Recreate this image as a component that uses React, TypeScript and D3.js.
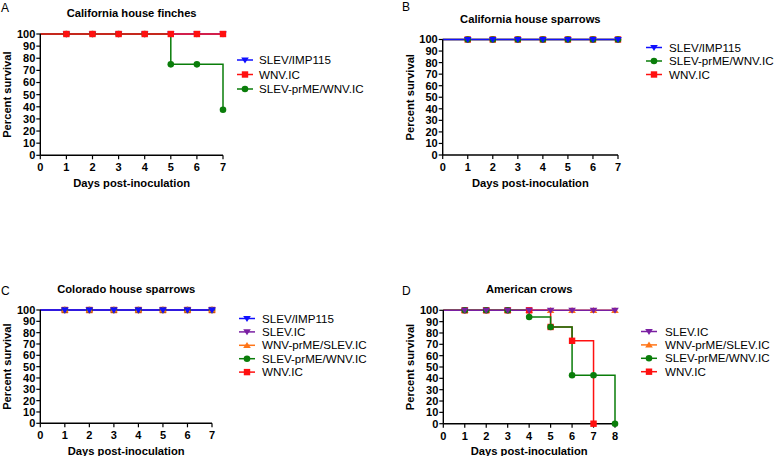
import React from "react";
import * as d3 from "d3";

const FONT = "'Liberation Sans', Arial, Helvetica, sans-serif";

const BLUE = "#1010ff";
const RED = "#ff1010";
const GREEN = "#0a7d0a";
const PURPLE = "#7a1fa2";
const ORANGE = "#ff7518";

const daysA = [0, 1, 2, 3, 4, 5, 6, 7];
const daysD = [0, 1, 2, 3, 4, 5, 6, 7, 8];

// Panel A: California house finches
const aSlevImp = [100, 100, 100, 100, 100, 100, 100, 100];
const aWnv = [100, 100, 100, 100, 100, 100, 100, 100];
const aSlevPrme = [100, 100, 100, 100, 100, 75, 75, 37.5];

// Panel B: California house sparrows
const bSlevImp = [100, 100, 100, 100, 100, 100, 100, 100];
const bSlevPrme = [100, 100, 100, 100, 100, 100, 100, 100];
const bWnv = [100, 100, 100, 100, 100, 100, 100, 100];

// Panel C: Colorado house sparrows
const cSlevImp = [100, 100, 100, 100, 100, 100, 100, 100];
const cSlevIc = [100, 100, 100, 100, 100, 100, 100, 100];
const cWnvPrme = [100, 100, 100, 100, 100, 100, 100, 100];
const cSlevPrme = [100, 100, 100, 100, 100, 100, 100, 100];
const cWnv = [100, 100, 100, 100, 100, 100, 100, 100];

// Panel D: American crows
const dSlevIc = [100, 100, 100, 100, 100, 100, 100, 100, 100];
const dWnvPrme = [100, 100, 100, 100, 100, 100, 100, 100, 100];
const dSlevPrme = [100, 100, 100, 100, 94.1, 85.3, 42.7, 42.7, 0];
const dWnv = [100, 100, 100, 100, 100, 85.3, 73.1, 0, null];

const yTicks = [0, 10, 20, 30, 40, 50, 60, 70, 80, 90, 100];

type Shape = "tridown" | "triup" | "square" | "circle";
type Series = { name: string; color: string; shape: Shape; days: number[]; values: (number | null)[] };

function Marker({ x, y, shape, color }: { x: number; y: number; shape: Shape; color: string }) {
  if (shape === "square") return <rect x={x - 3.2} y={y - 3.2} width={6.4} height={6.4} fill={color} />;
  if (shape === "circle") return <circle cx={x} cy={y} r={3.3} fill={color} />;
  if (shape === "tridown")
    return <path d={`M${x - 3.8},${y - 2.6}L${x + 3.8},${y - 2.6}L${x},${y + 3.4}Z`} fill={color} />;
  return <path d={`M${x - 3.8},${y + 2.6}L${x + 3.8},${y + 2.6}L${x},${y - 3.4}Z`} fill={color} />;
}

type PanelProps = {
  letter: string;
  letterX: number;
  letterY: number;
  title: string;
  x0: number;
  x1: number;
  y0: number;
  y1: number;
  xMax: number;
  drawOrder: Series[];
  legend: Series[];
  legLineX: number;
  legTextX: number;
  legY: number;
  legStep: number;
};

function Panel(p: PanelProps) {
  const x = d3.scaleLinear().domain([0, p.xMax]).range([p.x0, p.x1]);
  const y = d3.scaleLinear().domain([0, 100]).range([p.y0, p.y1]);
  const xTicks = d3.range(0, p.xMax + 1);
  const stepPath = (s: Series) => {
    const pts: [number, number][] = [];
    s.days.forEach((d, i) => {
      const v = s.values[i];
      if (v == null) return;
      pts.push([d, v]);
    });
    const line = d3
      .line<[number, number]>()
      .x((d) => x(d[0]))
      .y((d) => y(d[1]))
      .curve(d3.curveStepAfter);
    return line(pts) || "";
  };
  const cx = (p.x0 + p.x1) / 2;
  const cy = (p.y0 + p.y1) / 2;
  return (
    <g>
      <text x={p.letterX} y={p.letterY} fontSize={12} fontFamily={FONT}>
        {p.letter}
      </text>
      <text x={cx} y={p.y1 - 17} textAnchor="middle" fontSize={11.2} fontWeight="bold" fontFamily={FONT}>
        {p.title}
      </text>
      {/* series lines */}
      {p.drawOrder.map((s) => (
        <path key={s.name + "l"} d={stepPath(s)} fill="none" stroke={s.color} strokeWidth={1.5} />
      ))}
      {/* axes */}
      <line x1={p.x0} x2={p.x0} y1={p.y0} y2={p.y1} stroke="#000" strokeWidth={1.4} />
      <line x1={p.x0} x2={p.x1} y1={p.y0} y2={p.y0} stroke="#000" strokeWidth={1.4} />
      {yTicks.map((t) => (
        <g key={"y" + t}>
          <line x1={p.x0 - 4} x2={p.x0} y1={y(t)} y2={y(t)} stroke="#000" strokeWidth={1.2} />
          <text
            x={p.x0 - 5}
            y={y(t) + 3.9}
            textAnchor="end"
            fontSize={11}
            fontWeight="bold"
            fontFamily={FONT}
          >
            {t}
          </text>
        </g>
      ))}
      {xTicks.map((t) => (
        <g key={"x" + t}>
          <line x1={x(t)} x2={x(t)} y1={p.y0} y2={p.y0 + 4} stroke="#000" strokeWidth={1.2} />
          <text x={x(t)} y={p.y0 + 16} textAnchor="middle" fontSize={11} fontWeight="bold" fontFamily={FONT}>
            {t}
          </text>
        </g>
      ))}
      <text x={cx} y={p.y0 + 31.5} textAnchor="middle" fontSize={11.2} fontWeight="bold" fontFamily={FONT}>
        Days post-inoculation
      </text>
      <text
        transform={`translate(${p.x0 - 29},${cy}) rotate(-90)`}
        textAnchor="middle"
        fontSize={11.2}
        fontWeight="bold"
        fontFamily={FONT}
      >
        Percent survival
      </text>
      {/* markers */}
      {p.drawOrder.map((s) =>
        s.days.map((d, i) => {
          const v = s.values[i];
          if (v == null || d === 0) return null;
          return <Marker key={s.name + d} x={x(d)} y={y(v)} shape={s.shape} color={s.color} />;
        })
      )}
      {/* legend */}
      {p.legend.map((s, i) => {
        const ly = p.legY + i * p.legStep;
        return (
          <g key={s.name + "leg"}>
            <line x1={p.legLineX} x2={p.legLineX + 16} y1={ly} y2={ly} stroke={s.color} strokeWidth={1.5} />
            <Marker x={p.legLineX + 8} y={ly} shape={s.shape} color={s.color} />
            <text x={p.legTextX} y={ly + 4} fontSize={11.6} fontFamily={FONT}>
              {s.name}
            </text>
          </g>
        );
      })}
    </g>
  );
}

export default function App() {
  const A_imp: Series = { name: "SLEV/IMP115", color: BLUE, shape: "tridown", days: daysA, values: aSlevImp };
  const A_wnv: Series = { name: "WNV.IC", color: RED, shape: "square", days: daysA, values: aWnv };
  const A_prme: Series = { name: "SLEV-prME/WNV.IC", color: GREEN, shape: "circle", days: daysA, values: aSlevPrme };

  const B_imp: Series = { name: "SLEV/IMP115", color: BLUE, shape: "tridown", days: daysA, values: bSlevImp };
  const B_prme: Series = { name: "SLEV-prME/WNV.IC", color: GREEN, shape: "circle", days: daysA, values: bSlevPrme };
  const B_wnv: Series = { name: "WNV.IC", color: RED, shape: "square", days: daysA, values: bWnv };

  const C_imp: Series = { name: "SLEV/IMP115", color: BLUE, shape: "tridown", days: daysA, values: cSlevImp };
  const C_ic: Series = { name: "SLEV.IC", color: PURPLE, shape: "tridown", days: daysA, values: cSlevIc };
  const C_wp: Series = { name: "WNV-prME/SLEV.IC", color: ORANGE, shape: "triup", days: daysA, values: cWnvPrme };
  const C_sp: Series = { name: "SLEV-prME/WNV.IC", color: GREEN, shape: "circle", days: daysA, values: cSlevPrme };
  const C_wnv: Series = { name: "WNV.IC", color: RED, shape: "square", days: daysA, values: cWnv };

  const D_ic: Series = { name: "SLEV.IC", color: PURPLE, shape: "tridown", days: daysD, values: dSlevIc };
  const D_wp: Series = { name: "WNV-prME/SLEV.IC", color: ORANGE, shape: "triup", days: daysD, values: dWnvPrme };
  const D_sp: Series = { name: "SLEV-prME/WNV.IC", color: GREEN, shape: "circle", days: daysD, values: dSlevPrme };
  const D_wnv: Series = { name: "WNV.IC", color: RED, shape: "square", days: daysD, values: dWnv };

  return (
    <svg
      width={776}
      height={456}
      style={{ position: "absolute", left: 0, top: 0, background: "#fff" }}
      xmlns="http://www.w3.org/2000/svg"
    >
      <rect width={776} height={456} fill="#fff" />
      <Panel
        letter="A"
        letterX={1}
        letterY={12}
        title="California house finches"
        x0={40.3}
        x1={223}
        y0={155.3}
        y1={34}
        xMax={7}
        drawOrder={[A_imp, A_prme, A_wnv]}
        legend={[A_imp, A_wnv, A_prme]}
        legLineX={237}
        legTextX={259}
        legY={60}
        legStep={14.5}
      />
      <Panel
        letter="B"
        letterX={402}
        letterY={11}
        title="California house sparrows"
        x0={442.7}
        x1={618}
        y0={155}
        y1={39.5}
        xMax={7}
        drawOrder={[B_wnv, B_prme, B_imp]}
        legend={[B_imp, B_prme, B_wnv]}
        legLineX={646}
        legTextX={669}
        legY={47.5}
        legStep={13.5}
      />
      <Panel
        letter="C"
        letterX={1}
        letterY={295}
        title="Colorado house sparrows"
        x0={40.3}
        x1={212}
        y0={423.3}
        y1={310}
        xMax={7}
        drawOrder={[C_wnv, C_sp, C_wp, C_ic, C_imp]}
        legend={[C_imp, C_ic, C_wp, C_sp, C_wnv]}
        legLineX={239}
        legTextX={262}
        legY={318.5}
        legStep={13.4}
      />
      <Panel
        letter="D"
        letterX={402}
        letterY={295}
        title="American crows"
        x0={443.3}
        x1={615}
        y0={423.7}
        y1={310.3}
        xMax={8}
        drawOrder={[D_wp, D_wnv, D_sp, D_ic]}
        legend={[D_ic, D_wp, D_sp, D_wnv]}
        legLineX={641}
        legTextX={665}
        legY={331.5}
        legStep={13.4}
      />
    </svg>
  );
}
